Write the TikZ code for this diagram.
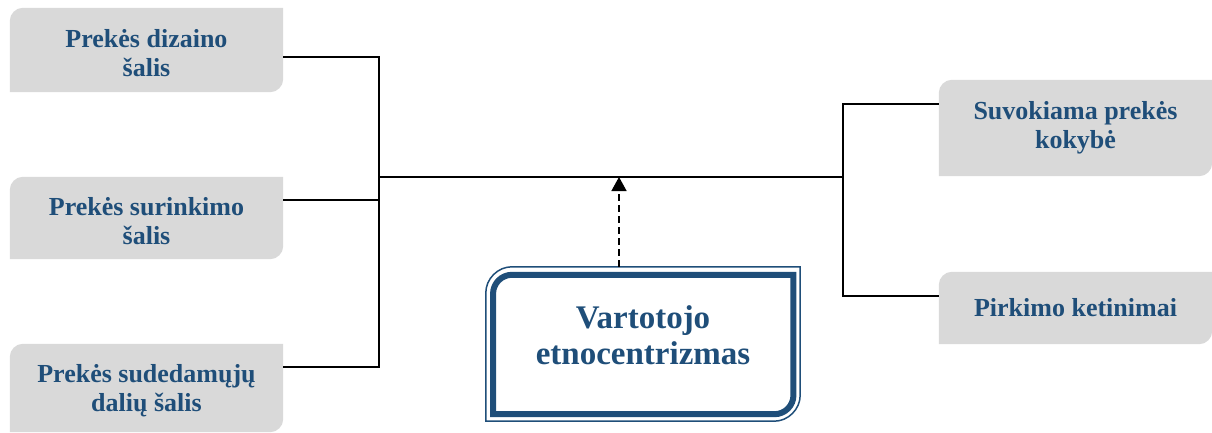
\documentclass[tikz,border=0pt]{standalone}
\usepackage{fontspec}
\setmainfont{Liberation Serif}
\usetikzlibrary{arrows.meta,backgrounds}

\definecolor{textblue}{HTML}{1F4E79}
\definecolor{boxgray}{HTML}{D9D9D9}

\tikzset{
    factor/.style={minimum width=273pt, inner sep=0pt, align=center, text=textblue,
        font=\bfseries\fontsize{26}{29}\selectfont},
    link/.style={black, line width=1.5pt},
    dasharrow/.style={black, line width=1.5pt, dash pattern=on 7pt off 4pt,
        -{Triangle[width=15pt,length=14pt]}}
}

% 圆角框: 只有左上角和右下角为圆角 (#1 节点, #2 半径, #3 控制点距离, #4 竖直偏移)
\newcommand{\cornerpath}[4]{%
    ([yshift=#4]#1.south west) -- ([yshift=#4-#2]#1.north west)
    .. controls ([yshift=#4-#3]#1.north west) and ([xshift=#3,yshift=#4]#1.north west)
    .. ([xshift=#2,yshift=#4]#1.north west)
    -- ([yshift=#4]#1.north east) -- ([yshift=#4+#2]#1.south east)
    .. controls ([yshift=#4+#3]#1.south east) and ([xshift=-#3,yshift=#4]#1.south east)
    .. ([xshift=-#2,yshift=#4]#1.south east)
    -- cycle}

\begin{document}
\begin{tikzpicture}[x=1pt, y=-1pt]

    % 画布大小
    \useasboundingbox (0,0) rectangle (1212,433);

    % 左侧因素 (文字比方框中心低 3pt)
    \node[factor, minimum height=84pt] (dizain) at (146.5,53) {Prekės dizaino\\šalis};
    \node[factor, minimum height=82pt] (surink) at (146.5,221) {Prekės surinkimo\\šalis};
    \node[factor, minimum height=88pt] (sudeda) at (146.5,391) {Prekės sudedamųjų\\dalių šalis};

    % 右侧结果
    \node[factor, minimum height=96pt] (kokybe) at (1075.5,128) {Suvokiama prekės\\kokybė};
    \node[factor, minimum height=72pt] (ketin) at (1075.5,308) {Pirkimo ketinimai};

    % 中间方框
    \node[minimum width=314pt, minimum height=154pt, inner sep=0pt] (etno) at (643,344) {};
    \node[align=center, text=textblue, font=\bfseries\fontsize{33}{36}\selectfont]
        (etnotext) at ([yshift=9pt]etno.center) {Vartotojo\\etnocentrizmas};

    % 方框背景
    \begin{scope}[on background layer]
        \foreach \n in {dizain,surink,sudeda}
            \fill[boxgray] \cornerpath{\n}{13pt}{6pt}{3pt};
        \foreach \n in {kokybe,ketin}
            \fill[boxgray] \cornerpath{\n}{13pt}{6pt}{0pt};
    \end{scope}

    % 中间方框双线边框
    \draw[textblue, line width=1.5pt] \cornerpath{etno}{26pt}{12pt}{0pt};
    \node[minimum width=300pt, minimum height=139pt, inner sep=0pt] (etnoin)
        at ([xshift=0.25pt,yshift=-0.5pt]etno.center) {};
    \draw[textblue, line width=6pt] \cornerpath{etnoin}{19pt}{8.5pt}{0pt};

    % 连接线
    \coordinate (lhub) at (379,177);
    \coordinate (rhub) at (843,177);
    \draw[link] (lhub) -- (rhub);
    \draw[link] ([yshift=-4pt]dizain.east) -| (lhub);
    \draw[link] ([yshift=21pt]surink.east) -| (lhub);
    \draw[link] ([yshift=24pt]sudeda.east) -| (lhub);
    \draw[link] ([yshift=24pt]kokybe.west) -| (rhub);
    \draw[link] ([yshift=12pt]ketin.west) -| (rhub);

    % 虚线箭头
    \draw[dasharrow] ([xshift=-24pt]etno.north) -- ([xshift=-24pt]etno.north |- lhub);

\end{tikzpicture}
\end{document}
